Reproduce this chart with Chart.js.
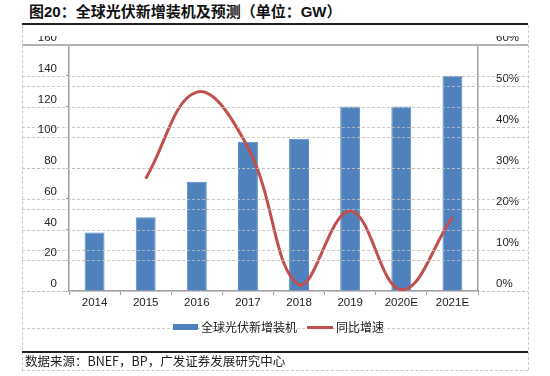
<!DOCTYPE html>
<html><head><meta charset="utf-8">
<script src="https://cdn.jsdelivr.net/npm/chart.js@4/dist/chart.umd.min.js"></script>
<style>
html,body{margin:0;padding:0;background:#fff;}
#wrap{position:relative;width:550px;height:376px;overflow:hidden;font-family:"Liberation Sans","Noto Sans CJK SC",sans-serif;}
#c{position:absolute;left:0;top:0;}
#title{position:absolute;left:0;top:0;width:550px;height:36px;background:#fff;}
#title .t{position:absolute;left:29px;top:3px;font-size:15px;font-weight:bold;color:#111;white-space:nowrap;line-height:18px;}
.hr{position:absolute;left:22px;width:506px;height:2px;background:#222;}
.vd{position:absolute;width:0;border-left:1px dashed #c8c8c8;}
.hd{position:absolute;height:0;border-top:1px dashed #c8c8c8;}
#src{position:absolute;left:25px;top:353px;font-size:12.5px;color:#222;white-space:nowrap;line-height:16px;font-family:"Noto Sans CJK SC","Liberation Sans",sans-serif;}
.lg{position:absolute;font-size:12px;color:#222;white-space:nowrap;line-height:14px;font-family:"Noto Sans CJK SC",sans-serif;}
</style></head>
<body>
<div id="wrap">
<canvas id="c" width="550" height="376"></canvas>
<div id="title"><div class="t">图20：全球光伏新增装机及预测（单位：GW）</div></div>
<div class="hr" style="top:23px"></div>
<div class="vd" style="left:22px;top:25px;height:345px"></div>
<div class="vd" style="left:528px;top:25px;height:345px"></div>
<div class="hd" style="left:22px;top:370px;width:506px"></div>
<div class="hr" style="top:351px;height:1.5px"></div>
<div id="src">数据来源：BNEF，BP，广发证券发展研究中心</div>
<div style="position:absolute;left:173px;top:324px;width:25px;height:6px;background:#4f81bd;"></div>
<div class="lg" style="left:201px;top:320px">全球光伏新增装机</div>
<div style="position:absolute;left:307px;top:326px;width:26px;height:3px;background:#c0504d;"></div>
<div class="lg" style="left:336px;top:320px">同比增速</div>
</div>
<script>
const categories = ['2014','2015','2016','2017','2018','2019','2020E','2021E'];
const installedGW = [38, 48, 71, 97, 99, 120, 120, 140];
const growthPct = [null, 27.4, 48.5, 35, 1.5, 19.5, 0.3, 18];
const leftTicks = [0,20,40,60,80,100,120,140,160];
const rightTicks = [0,10,20,30,40,50,60];

const gridPlugin = {
  id: 'gridPlugin',
  afterDatasetsDraw(chart) {
    const ctx = chart.ctx, L = 22, R = 528, top = chart.chartArea.top;
    ctx.save();
    ctx.lineWidth = 1;
    ctx.setLineDash([3, 2]);
    ctx.strokeStyle = 'rgba(190,190,190,0.85)';
    ['y', 'y1'].forEach(id => {
      const s = chart.scales[id];
      s.ticks.forEach(t => {
        const yy = Math.round(s.getPixelForValue(t.value)) + 0.5;
        if (yy < top + 3) return;
        ctx.beginPath(); ctx.moveTo(L, yy); ctx.lineTo(R, yy); ctx.stroke();
      });
    });
    ctx.beginPath(); ctx.moveTo(L, 328.5); ctx.lineTo(R, 328.5); ctx.stroke();
    ctx.setLineDash([]);
    ctx.strokeStyle = '#b4b4b4';
    ctx.lineWidth = 2;
    ctx.beginPath(); ctx.moveTo(L, top); ctx.lineTo(R, top); ctx.stroke();
    ctx.restore();
  }
};

new Chart(document.getElementById('c'), {
  data: {
    labels: categories,
    datasets: [
      { type: 'line', label: '同比增速', data: growthPct, yAxisID: 'y1', order: 1,
        borderColor: '#c0504d', borderWidth: 3, pointRadius: 0, tension: 0.4, fill: false },
      { type: 'bar', label: '全球光伏新增装机', data: installedGW, yAxisID: 'y', order: 2,
        backgroundColor: '#4f81bd', borderColor: '#5a8ac4', borderWidth: 1,
        categoryPercentage: 1, barPercentage: 0.39 }
    ]
  },
  options: {
    responsive: false, animation: false,
    layout: { padding: { left: 22, right: 22, top: 45, bottom: 65 } },
    plugins: { legend: { display: false }, tooltip: { enabled: false } },
    scales: {
      x: {
        offset: true,
        grid: { display: true, drawOnChartArea: false, drawTicks: true, tickLength: 4, color: '#a0a0a0', offset: true },
        border: { display: true, color: '#a0a0a0', width: 1.5 },
        ticks: { color: '#222', font: { family: 'Liberation Sans', size: 11.5 }, padding: 1, maxRotation: 0 },
        afterFit(s) { s.height = 20; }
      },
      y: {
        position: 'left', min: 0, max: 160,
        afterBuildTicks(s) { s.ticks = leftTicks.map(v => ({ value: v })); },
        grid: { display: true, drawOnChartArea: false, drawTicks: true, tickLength: 3, color: '#a0a0a0' },
        border: { display: true, color: '#a0a0a0', width: 1.5 },
        ticks: { color: '#222', font: { family: 'Liberation Sans', size: 11.5 }, padding: 9, labelOffset: -7 },
        afterFit(s) { s.width = 47; }
      },
      y1: {
        position: 'right', min: 0, max: 60,
        afterBuildTicks(s) { s.ticks = rightTicks.map(v => ({ value: v })); },
        grid: { display: false },
        border: { display: true, color: '#a0a0a0', width: 1.5 },
        ticks: { color: '#222', font: { family: 'Liberation Sans', size: 11.5 }, padding: 10, labelOffset: -7,
                 callback: v => v + '%' },
        afterFit(s) { s.width = 50; }
      }
    }
  },
  plugins: [gridPlugin]
});
</script>
</body></html>
